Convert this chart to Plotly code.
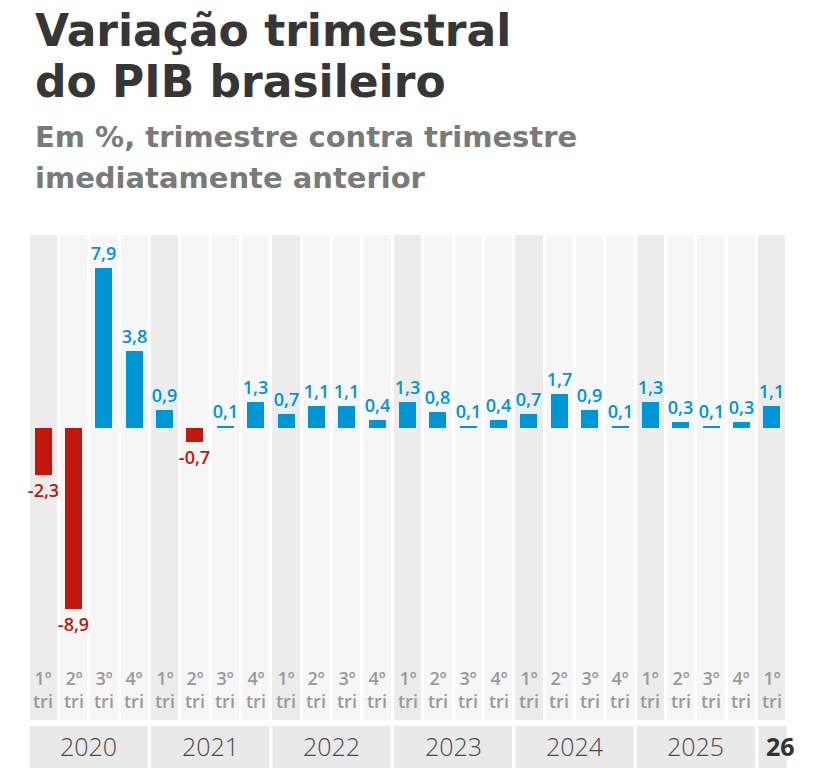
import plotly.graph_objects as go

# ---- data ----
years = ["2020", "2021", "2022", "2023", "2024", "2025", "26"]
quarters_per_year = [4, 4, 4, 4, 4, 4, 1]
quarter_labels = ["1º", "2º", "3º", "4º"]
values = [-2.3, -8.9, 7.9, 3.8,
          0.9, -0.7, 0.1, 1.3,
          0.7, 1.1, 1.1, 0.4,
          1.3, 0.8, 0.1, 0.4,
          0.7, 1.7, 0.9, 0.1,
          1.3, 0.3, 0.1, 0.3,
          1.1]

title_lines = ["Variação trimestral", "do PIB brasileiro"]
subtitle_lines = ["Em %, trimestre contra trimestre", "imediatamente anterior"]

BLUE = "#0095d4"
RED = "#c2170d"

W, H = 826, 778
M_L, M_R, M_T, M_B = 28, 39, 235, 58
PLOT_H = H - M_T - M_B
PLOT_W = W - M_L - M_R
Y_MAX, Y_MIN = 9.51, -14.38

def py(pix):
    """pixel y (from top of figure) -> paper y"""
    return (H - M_B - pix) / PLOT_H

def px(pix):
    """pixel x (from left of figure) -> paper x"""
    return (pix - M_L) / PLOT_W

n = len(values)
xs = list(range(n))
q_idx = []
for nq in quarters_per_year:
    q_idx += list(range(nq))

fig = go.Figure()

# background columns
fig.add_trace(go.Bar(
    x=xs, y=[Y_MAX - Y_MIN] * n, base=[Y_MIN] * n, width=0.9,
    marker=dict(color=["#ececec" if q == 0 else "#f6f6f6" for q in q_idx], line_width=0),
    hoverinfo="skip", showlegend=False,
))

# value bars
fig.add_trace(go.Bar(
    x=xs, y=values, width=0.56,
    marker=dict(color=[BLUE if v >= 0 else RED for v in values], line_width=0),
    text=[f"{v:.1f}".replace(".", ",") for v in values],
    textposition="outside", constraintext="none",
    textfont=dict(family="Open Sans", size=18, weight=600,
                  color=[BLUE if v >= 0 else RED for v in values]),
    cliponaxis=False, showlegend=False,
))

annotations = []
# quarter labels
for i, q in enumerate(q_idx):
    annotations.append(dict(
        x=i, y=py(689), xref="x", yref="paper", showarrow=False,
        text=f"{quarter_labels[q]}<br>tri", xanchor="center", yanchor="middle",
        font=dict(family="Open Sans", size=18, weight=600, color="#9a9a9a"),
    ))

# year bands
shapes = []
start = 0
for k, (yr, nq) in enumerate(zip(years, quarters_per_year)):
    x0 = start - 0.5 + 0.05
    x1 = start + nq - 0.5 - 0.05
    last = k == len(years) - 1
    if last:
        x1 = start + nq - 0.5 + 0.53
    shapes.append(dict(type="rect", xref="x", yref="paper", x0=x0, x1=x1,
                       y0=py(768), y1=py(726), fillcolor="#e9e9e9", line_width=0, layer="below"))
    annotations.append(dict(
        x=(x0 + x1) / 2, y=py(746), xref="x", yref="paper", showarrow=False,
        text=yr, xanchor="center", yanchor="middle",
        font=dict(family="Open Sans", size=25, weight=700 if last else 300,
                  color="#333333" if last else "#4a4a4a"),
    ))
    start += nq

# titles
for t, ypix in zip(title_lines, (31, 81)):
    annotations.append(dict(
        x=px(33), y=py(ypix), xref="paper", yref="paper", showarrow=False,
        text=t, xanchor="left", yanchor="middle",
        font=dict(family="DejaVu Sans", size=44, weight=700, color="#363636"),
    ))
for t, ypix in zip(subtitle_lines, (137, 178)):
    annotations.append(dict(
        x=px(33), y=py(ypix), xref="paper", yref="paper", showarrow=False,
        text=t, xanchor="left", yanchor="middle",
        font=dict(family="DejaVu Sans", size=29, weight=700, color="#7a7a7a"),
    ))

fig.update_layout(
    width=W, height=H,
    margin=dict(l=M_L, r=M_R, t=M_T, b=M_B),
    paper_bgcolor="white", plot_bgcolor="white",
    barmode="overlay", bargap=0,
    xaxis=dict(visible=False, range=[-0.5, n - 0.5]),
    yaxis=dict(visible=False, range=[Y_MIN, Y_MAX]),
    annotations=annotations, shapes=shapes,
)

fig.write_html("out.html")
